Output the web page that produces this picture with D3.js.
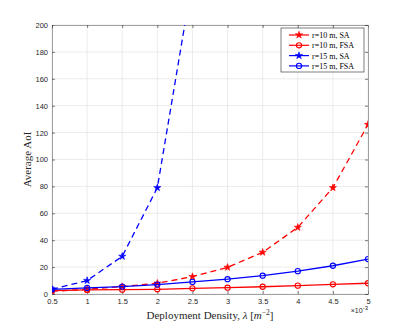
<!DOCTYPE html>
<html>
<head>
<meta charset="utf-8">
<script src="https://cdn.jsdelivr.net/npm/d3@7/dist/d3.min.js"></script>
<style>
  body { margin: 0; background: #fff; }
  svg { display: block; }
  .tick text { font-family: "Liberation Sans", Arial, sans-serif; font-size: 7.5px; fill: #262626; }
</style>
</head>
<body>
<div id="chart"></div>
<script>
// density (x1e-3 m^-2)
var xs = [0.5, 1, 1.5, 2, 2.5, 3, 3.5, 4, 4.5, 5];
var r10SA = [2, 3.5, 5.5, 8, 12.9, 19.8, 31, 49.5, 79, 126];
var r10FSA = [2.5, 3, 3.2, 3.5, 4.2, 4.7, 5.4, 6.2, 7.2, 8];
var r15SA = [3.5, 10, 28, 79, 234];
var r15FSA = [3.5, 4.5, 5.5, 7, 9, 11, 13.6, 17, 21, 26];
var xTicks = [0.5, 1, 1.5, 2, 2.5, 3, 3.5, 4, 4.5, 5];
var yTicks = [0, 20, 40, 60, 80, 100, 120, 140, 160, 180, 200];
var seriesNames = ['r=10 m, SA', 'r=10 m, FSA', 'r=15 m, SA', 'r=15 m, FSA'];

var width = 407, height = 331;
var margin = {top: 25, right: 39, bottom: 37, left: 52};
var w = width - margin.left - margin.right;
var h = height - margin.top - margin.bottom;

var svg = d3.select('#chart').append('svg')
    .attr('width', width)
    .attr('height', height);

var g = svg.append('g')
    .attr('transform', 'translate(' + margin.left + ',' + margin.top + ')');

var xScale = d3.scaleLinear().domain([0.5, 5]).range([0, w]);
var yScale = d3.scaleLinear().domain([0, 200]).range([h, 0]);

g.append('rect').attr('width', w).attr('height', h).attr('fill', '#fff');

// grid
g.append('g').selectAll('line').data(xTicks).enter().append('line')
    .attr('x1', d => xScale(d)).attr('x2', d => xScale(d))
    .attr('y1', 0).attr('y2', h)
    .attr('stroke', '#e6e6e6').attr('stroke-width', 0.8);
g.append('g').selectAll('line').data(yTicks).enter().append('line')
    .attr('y1', d => yScale(d)).attr('y2', d => yScale(d))
    .attr('x1', 0).attr('x2', w)
    .attr('stroke', '#e6e6e6').attr('stroke-width', 0.8);

// axes
var xAxis = d3.axisBottom(xScale).tickValues(xTicks).tickSize(-3).tickPadding(5).tickFormat(d3.format('~g'));
var yAxis = d3.axisLeft(yScale).tickValues(yTicks).tickSize(-3).tickPadding(4);

g.append('g').attr('transform', 'translate(0,' + h + ')').call(xAxis);
g.append('g').call(yAxis);
g.append('g').call(d3.axisTop(xScale).tickValues(xTicks).tickSize(-3).tickFormat(''));
g.append('g').attr('transform', 'translate(' + w + ',0)')
    .call(d3.axisRight(yScale).tickValues(yTicks).tickSize(-3).tickFormat(''));
g.selectAll('.domain').attr('stroke', '#8a8a8a').attr('stroke-width', 0.8);
g.selectAll('.tick line').attr('stroke', '#262626').attr('stroke-width', 0.6);

// clip
svg.append('defs').append('clipPath').attr('id', 'clip')
    .append('rect').attr('width', w).attr('height', h);

var plot = g.append('g').attr('clip-path', 'url(#clip)');

var series = [
    {vals: r10SA, color: '#ff0000', dash: '6,4', marker: 'star'},
    {vals: r10FSA, color: '#ff0000', dash: null, marker: 'circle'},
    {vals: r15SA, color: '#0000ff', dash: '6,4', marker: 'star'},
    {vals: r15FSA, color: '#0000ff', dash: null, marker: 'circle'}
];

var line = d3.line()
    .x(function(d, i) { return xScale(xs[i]); })
    .y(function(d) { return yScale(d); });

var star = d3.symbol().type(d3.symbolStar).size(16);

function drawMarker(sel, s, x, y) {
    if (s.marker === 'star') {
        sel.append('path').attr('d', star())
            .attr('transform', 'translate(' + x + ',' + y + ')')
            .attr('fill', s.color).attr('stroke', s.color).attr('stroke-width', 0.6);
    } else {
        sel.append('circle').attr('cx', x).attr('cy', y).attr('r', 2.6)
            .attr('fill', 'none').attr('stroke', s.color).attr('stroke-width', 1.1);
    }
}

series.forEach(function(s) {
    plot.append('path')
        .attr('d', line(s.vals))
        .attr('fill', 'none')
        .attr('stroke', s.color)
        .attr('stroke-width', 1.3)
        .attr('stroke-dasharray', s.dash);
    s.vals.forEach(function(v, i) {
        if (v <= 200) drawMarker(plot, s, xScale(xs[i]), yScale(v));
    });
});

// labels
svg.append('text')
    .attr('x', margin.left + w / 2).attr('y', 319)
    .attr('text-anchor', 'middle')
    .attr('font-family', '"Liberation Serif", serif').attr('font-size', 11).attr('fill', '#262626')
    .html('Deployment Density, <tspan font-style="italic">λ</tspan> [<tspan font-style="italic">m</tspan><tspan dy="-4" font-size="7.5">−2</tspan><tspan dy="4">]</tspan>');

svg.append('text')
    .attr('transform', 'translate(31,' + (margin.top + h / 2) + ') rotate(-90)')
    .attr('text-anchor', 'middle')
    .attr('font-family', '"Liberation Serif", serif').attr('font-size', 11).attr('fill', '#262626')
    .text('Average AoI');

svg.append('text')
    .attr('x', margin.left + w).attr('y', 313)
    .attr('text-anchor', 'end')
    .attr('font-family', '"Liberation Sans", sans-serif').attr('font-size', 7).attr('fill', '#262626')
    .html('×10<tspan dy="-3" font-size="6">-3</tspan>');

// legend
var lg = svg.append('g').attr('transform', 'translate(281,28)');
lg.append('rect').attr('width', 83).attr('height', 44)
    .attr('fill', '#fff').attr('stroke', '#262626').attr('stroke-width', 0.6);
seriesNames.forEach(function(name, i) {
    var y = 7 + i * 10.3;
    var s = series[i];
    lg.append('line').attr('x1', 8).attr('x2', 28).attr('y1', y).attr('y2', y)
        .attr('stroke', s.color).attr('stroke-width', 1.2);
    drawMarker(lg, s, 18, y);
    lg.append('text').attr('x', 31).attr('y', y + 3)
        .attr('font-family', '"Liberation Serif", serif').attr('font-size', 8).attr('fill', '#000')
        .text(name);
});
</script>
</body>
</html>
